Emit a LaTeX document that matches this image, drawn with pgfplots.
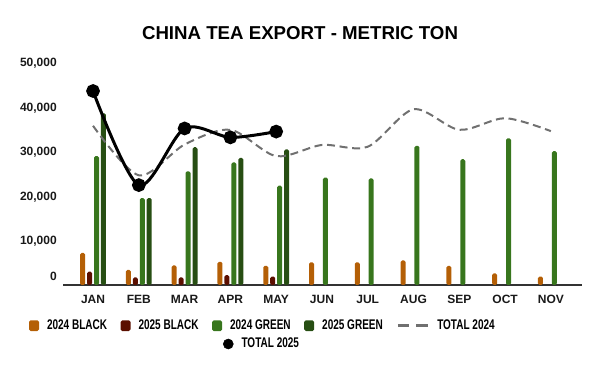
\documentclass[border=0pt]{standalone}
\usepackage{pgfplots}
\pgfplotsset{compat=1.18}
\usepackage{fontspec}
\setmainfont{Liberation Sans}
\newfontfamily\legfont{Liberation Sans}[FakeStretch=0.715]
\definecolor{cOrange}{HTML}{B45F06}
\definecolor{cRed}{HTML}{5B0F00}
\definecolor{cGreen}{HTML}{38761D}
\definecolor{cDkGreen}{HTML}{274E13}
\definecolor{cGray}{HTML}{707070}
\begin{document}
\begin{tikzpicture}
\path[use as bounding box] (0,0) rectangle (450pt,278.25pt);
\node[font=\fontsize{14}{15}\selectfont\bfseries] at (225pt,253.5pt) {CHINA TEA EXPORT - METRIC TON};
\begin{axis}[
  at={(47.25pt,64.5pt)}, anchor=south west,
  scale only axis, width=389.25pt, height=167.25pt,
  xmin=-0.656, xmax=10.68, ymin=0, ymax=50000,
  axis x line*=bottom, axis y line*=left,
  y axis line style={draw=none},
  x axis line style={-, draw=black!80, line width=0.8pt},
  major tick length=0pt,
  xtick={0,...,10}, xticklabels={JAN,FEB,MAR,APR,MAY,JUN,JUL,AUG,SEP,OCT,NOV},
  ytick={10000,20000,...,50000},
  extra y ticks={0},
  extra y tick style={yticklabel style={yshift=6.75pt}},
  scaled y ticks=false,
  /pgf/number format/1000 sep={,},
  /pgf/number format/assume math mode=true,
  tick label style={font=\fontsize{9}{9}\selectfont\bfseries, text=black!90, inner sep=0pt},
  yticklabel style={anchor=base east, xshift=-4.5pt, yshift=-3.4pt},
  xticklabel style={anchor=north, yshift=-7.5pt},
  legend columns=5,
  legend style={
    at={(axis description cs:-0.0655,-0.1825)}, anchor=west,
    draw=none, fill=none, inner sep=0pt, outer sep=0pt,
    font=\legfont\fontsize{10.5}{11}\selectfont\bfseries,
    nodes={inner sep=0pt},
    /tikz/every odd column/.append style={column sep=6pt},
    /tikz/every even column/.append style={column sep=10.1pt},
  },
  clip=false,
]
\addplot[ybar, bar width=3.75pt, bar shift=-7.8pt, fill=cOrange, draw=none, rounded corners=1.2pt,
  legend image code/.code={\fill[cOrange] (0pt,-4pt) rectangle (7.5pt,4pt);}]
  coordinates {(0,7200)(1,3400)(2,4400)(3,5200)(4,4300)(5,5100)(6,5100)(7,5500)(8,4300)(9,2600)(10,1900)};
\addlegendentry{2024 BLACK}
\addplot[ybar, bar width=3.75pt, bar shift=-2.6pt, fill=cRed, draw=none, rounded corners=1.2pt,
  legend image code/.code={\fill[cRed] (0pt,-4pt) rectangle (7.5pt,4pt);}]
  coordinates {(0,3000)(1,1700)(2,1700)(3,2200)(4,1900)};
\addlegendentry{2025 BLACK}
\addplot[ybar, bar width=3.75pt, bar shift=2.6pt, fill=cGreen, draw=none, rounded corners=1.2pt,
  legend image code/.code={\fill[cGreen] (0pt,-4pt) rectangle (7.5pt,4pt);}]
  coordinates {(0,28900)(1,19500)(2,25500)(3,27500)(4,22300)(5,24100)(6,23900)(7,31200)(8,28200)(9,32900)(10,30000)};
\addlegendentry{2024 GREEN}
\addplot[ybar, bar width=3.75pt, bar shift=7.8pt, fill=cDkGreen, draw=none, rounded corners=1.2pt,
  legend image code/.code={\fill[cDkGreen] (0pt,-4pt) rectangle (7.5pt,4pt);}]
  coordinates {(0,38500)(1,19500)(2,30900)(3,28500)(4,30400)};
\addlegendentry{2025 GREEN}
\addplot[smooth, cGray, line width=1.5pt, dash pattern=on 6pt off 3.5pt,
  legend image code/.code={\draw[solid,cGray,line width=2.2pt] (0pt,0pt)--(8.5pt,0pt) (14pt,0pt)--(22.5pt,0pt);}]
  coordinates {(0,35700)(1,24600)(2,31500)(3,34800)(4,28900)(5,31400)(6,31000)(7,39400)(8,34800)(9,37400)(10,34500)};
\addlegendentry{TOTAL 2024}
\addplot[smooth, black, line width=2.25pt, mark=*, mark size=4pt, mark options={solid}, forget plot]
  coordinates {(0,43500)(1,22400)(2,35100)(3,33100)(4,34400)};
\end{axis}
\begin{axis}[
  at={(47.25pt,64.5pt)}, anchor=south west,
  scale only axis, width=389.25pt, height=167.25pt,
  xmin=-0.656, xmax=10.68, ymin=0, ymax=50000,
  hide axis,
  legend style={
    at={(axis description cs:0.3083,-0.2646)}, anchor=west,
    draw=none, fill=none, inner sep=0pt, outer sep=0pt,
    font=\legfont\fontsize{10.5}{11}\selectfont\bfseries,
    nodes={inner sep=0pt},
    /tikz/every odd column/.append style={column sep=6pt},
  },
]
\addlegendimage{legend image code/.code={\fill[black] (3.75pt,0pt) circle (3.75pt);}}
\addlegendentry{TOTAL 2025}
\end{axis}
\end{tikzpicture}
\end{document}
